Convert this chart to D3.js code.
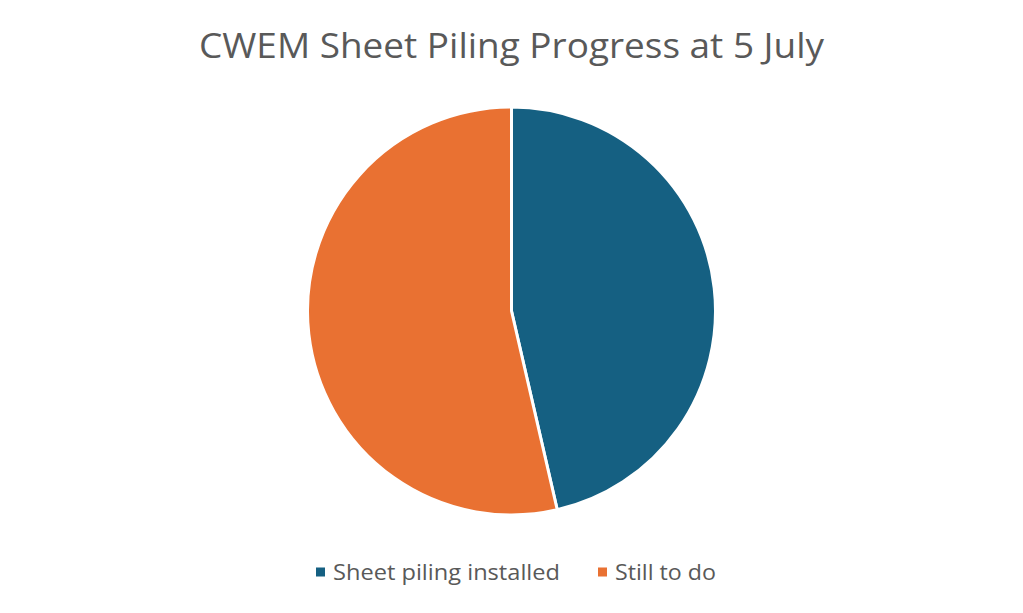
<!DOCTYPE html>
<html>
<head>
<meta charset="utf-8">
<script src="https://cdn.jsdelivr.net/npm/d3@7"></script>
<style>
  body { margin: 0; background: #fff; }
  text { font-family: "Open Sans", Lato, sans-serif; }
</style>
</head>
<body>
<div id="chart"></div>
<script>
var title = "CWEM Sheet Piling Progress at 5 July"
var categories = ["Sheet piling installed", "Still to do"]
var values = [46.4, 53.6]
var colors = ["#156082", "#E97132"]

var width = 1023,
    height = 613

var cx = 511.5, cy = 311, radius = 204

var svg = d3.select("#chart").append("svg")
    .attr("width", width)
    .attr("height", height)

svg.append("text")
    .attr("x", width / 2)
    .attr("y", 58)
    .attr("text-anchor", "middle")
    .style("font-size", "34px")
    .style("fill", "#595959")
    .attr("textLength", 625)
    .attr("lengthAdjust", "spacingAndGlyphs")
    .text(title)

var pie = d3.pie().sort(null)
var arc = d3.arc().innerRadius(0).outerRadius(radius)

var g = svg.append("g")
    .attr("transform", "translate(" + cx + "," + cy + ")")

g.selectAll("path")
    .data(pie(values))
    .enter().append("path")
    .attr("d", arc)
    .attr("fill", function(d, i) { return colors[i]; })
    .attr("stroke", "#fff")
    .attr("stroke-width", 3)
    .attr("stroke-linejoin", "round")

/*legend*/
var legendX = [316, 598]
var legendLen = [227, 101]
var legend = svg.selectAll(".legend")
    .data(categories)
    .enter().append("g")
    .attr("class", "legend")
    .attr("transform", function(d, i) { return "translate(" + legendX[i] + ",572)"; })

legend.append("rect")
    .attr("x", 0)
    .attr("y", -4.5)
    .attr("width", 9)
    .attr("height", 9)
    .attr("fill", function(d, i) { return colors[i]; })

legend.append("text")
    .attr("x", 17)
    .attr("y", 8)
    .style("font-size", "22px")
    .style("fill", "#595959")
    .attr("textLength", function(d, i) { return legendLen[i]; })
    .attr("lengthAdjust", "spacingAndGlyphs")
    .text(function(d) { return d; })
</script>
</body>
</html>
